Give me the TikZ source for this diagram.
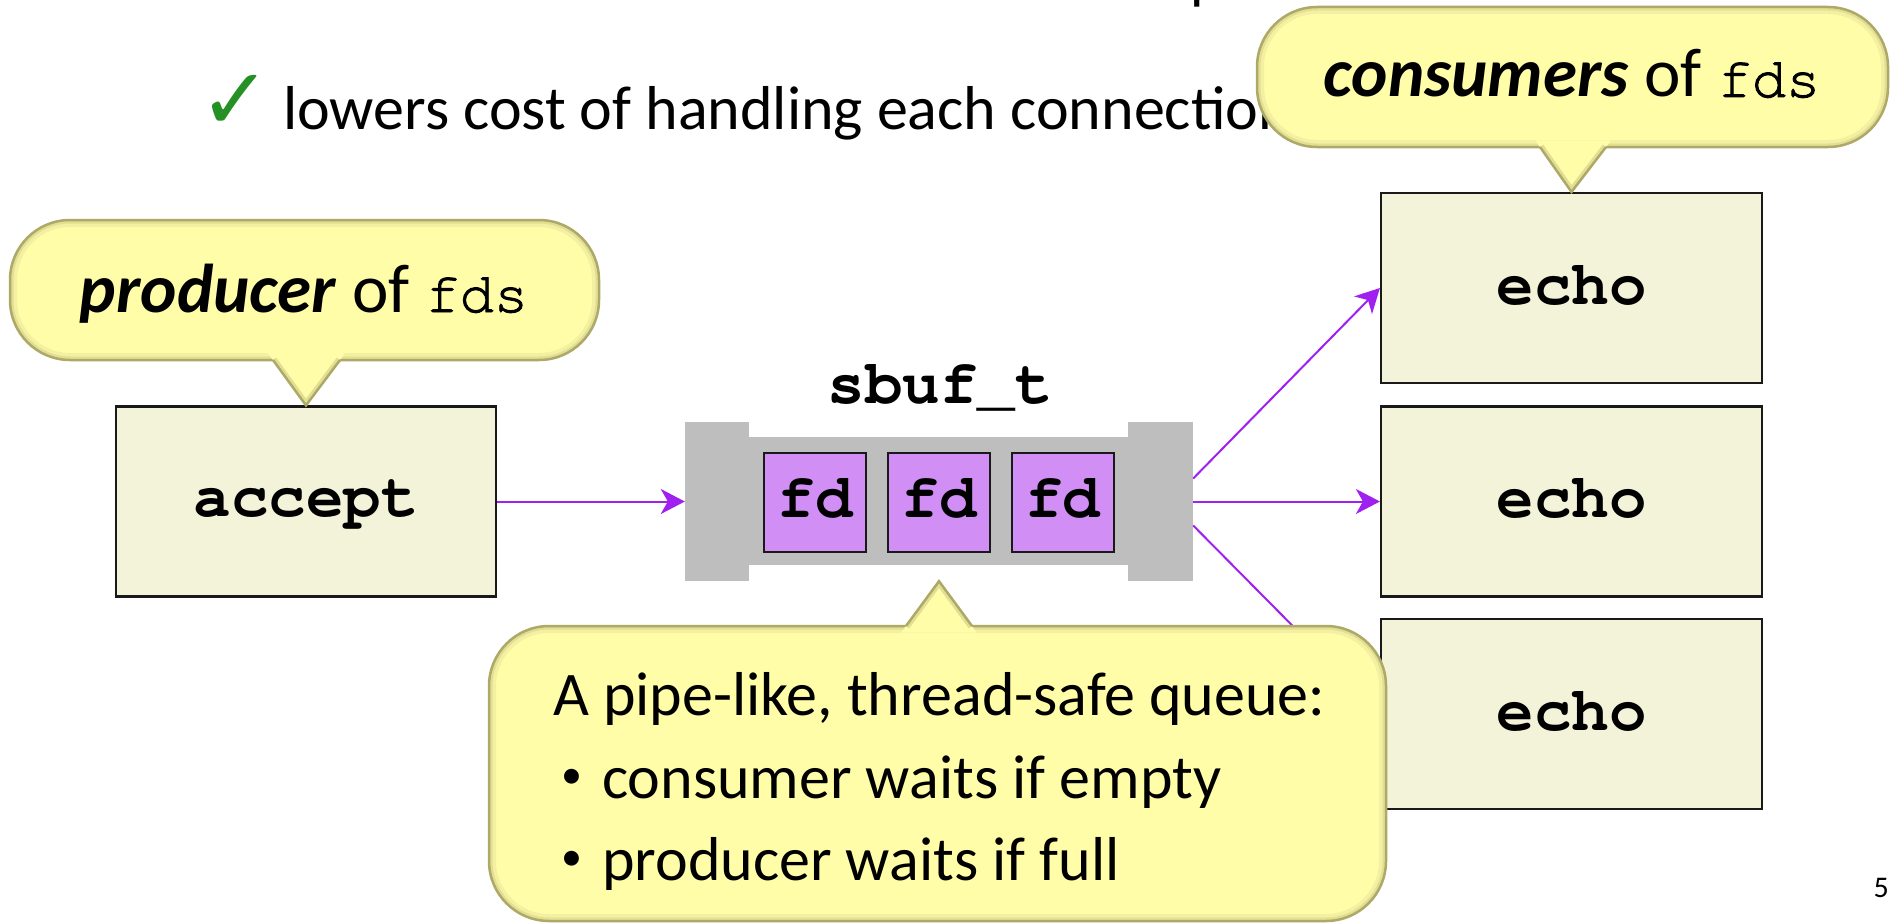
\documentclass[tikz,border=0pt]{standalone}
\usepackage{fontspec}
\setmainfont{Carlito}
\setmonofont{texgyrecursor}[Extension=.otf, UprightFont=*-regular, BoldFont=*-bold,
  ItalicFont=*-italic, BoldItalicFont=*-bolditalic]
\newfontfamily\notecode{texgyrecursor}[Extension=.otf, UprightFont=*-regular, FakeBold=1.6]
\newfontfamily\symbolfont{DejaVu Sans}
\usetikzlibrary{calc,arrows.meta}

\definecolor{boxfill}{HTML}{F3F3D9}
\definecolor{queuegray}{HTML}{BEBEBE}
\definecolor{fdfill}{HTML}{D18EF5}
\definecolor{flowpurple}{HTML}{A020F0}
\definecolor{tickgreen}{HTML}{259125}
\definecolor{tipfill}{HTML}{FFFDA8}
\definecolor{tipedge}{HTML}{ADA966}
\definecolor{tipshadeA}{HTML}{E2DE93}
\definecolor{tipshadeB}{HTML}{F3F0A2}

\newcommand\bodysize{\fontsize{62}{74}\selectfont}
\newcommand\notesize{\fontsize{69}{82}\selectfont}
\newcommand\codesize{\fontsize{62.5}{75}\selectfont\ttfamily\bfseries}
\newcommand\tipcode{\fontsize{57}{68}\selectfont\notecode}

% speech bubble: #1,#2 opposite corners of the body, #3,#4 ends of the
% pointer base on the body's edge, #5 the pointer tip
\newcommand\speechbubble[5]{%
  \begin{scope}
    \clip[rounded corners=60pt] #1 rectangle #2;
    \fill[tipfill] #1 rectangle #2;
    \draw[line width=14pt, tipshadeB, rounded corners=60pt] #1 rectangle #2;
    \draw[line width=7pt, tipshadeA, rounded corners=60pt] #1 rectangle #2;
  \end{scope}
  \draw[line width=2.5pt, tipedge, rounded corners=60pt] #1 rectangle #2;
  \begin{scope}
    \clip ($#5!1.15!#3$) -- #5 -- ($#5!1.15!#4$) -- cycle;
    \fill[tipfill] ($#5!1.15!#3$) -- #5 -- ($#5!1.15!#4$) -- cycle;
    \draw[line width=8pt, tipshadeA] #3 -- #5 -- #4;
  \end{scope}
  \draw[line width=2.5pt, tipedge, line join=miter] #3 -- #5 -- #4;
}

\begin{document}
\begin{tikzpicture}[x=1pt, y=-1pt,
  procbox/.style={draw=black!90, line width=2.2pt, fill=boxfill, inner sep=0pt,
                  minimum width=380pt, minimum height=190pt},
  fdbox/.style={draw=black!90, line width=2pt, fill=fdfill, inner sep=0pt,
                minimum width=102pt, minimum height=99pt},
  codelabel/.style={anchor=base, inner sep=0pt, font=\codesize},
  bodytext/.style={anchor=base west, inner sep=0pt, font=\bodysize},
  bulletmark/.style={anchor=center, inner sep=0pt, font=\fontsize{42}{50}\selectfont},
  flow/.style={draw=flowpurple, line width=2pt,
               -{Stealth[length=24pt, width=25pt, inset=7pt]}}]

\useasboundingbox (0,0) rectangle (1894,923);
\fill[white] (0,0) rectangle (1894,923);

% heading fragment and bullet line
\node[anchor=base west, inner sep=0pt, font=\fontsize{60}{72}\selectfont] (heading) at (1190,-2) {p};
\node[anchor=base west, inner sep=0pt, text=tickgreen,
      font=\symbolfont\fontsize{86}{98}\selectfont] (tick) at (199,130) {✓};
\node[bodytext] (point) at (283,129) {lowers cost of handling each connection};

% producer
\node[procbox] (accept) at (306,501.5) {};
\node[codelabel] (acceptlbl) at (306,516) {accept};

% the bounded buffer
\node[inner sep=0pt, minimum width=508pt, minimum height=159pt] (sbuf) at (939,501.5) {};
\fill[queuegray] (685,422) rectangle (749,581);
\fill[queuegray] (1128,422) rectangle (1193,581);
\fill[queuegray] (749,437) rectangle (1128,565);
\node[codelabel] (sbuflbl) at (940,403) {sbuf\_t};
\node[fdbox] (fd1) at (815,502.5) {};
\node[fdbox] (fd2) at (939,502.5) {};
\node[fdbox] (fd3) at (1062.5,502.5) {};
\node[codelabel] (fd1lbl) at (815,517) {fd};
\node[codelabel] (fd2lbl) at (939,517) {fd};
\node[codelabel] (fd3lbl) at (1062.5,517) {fd};

% consumers
\node[procbox, minimum width=381pt] (echo1) at (1571.5,288) {};
\node[procbox, minimum width=381pt] (echo2) at (1571.5,501.5) {};
\node[procbox, minimum width=381pt] (echo3) at (1571.5,714) {};
\node[codelabel] (echo1lbl) at (1571.5,304) {echo};
\node[codelabel] (echo2lbl) at (1571.5,517.5) {echo};
\node[codelabel] (echo3lbl) at (1571.5,730) {echo};

% flow of descriptors
\draw[flow] (accept.east) -- (sbuf.west);
\draw[flow] ([yshift=23pt]sbuf.east) -- (echo1.west);
\draw[flow] (sbuf.east) -- (echo2.west);
\draw[flow] ([yshift=-24pt]sbuf.east) -- (echo3.west);

% callouts
\speechbubble{(10,220)}{(599,360)}{(273,360)}{(340,360)}{(accept.north)}
\node[anchor=base, inner sep=0pt, font=\notesize] (prodnote) at (304,312)
  {\textbf{\textit{producer}} of {\tipcode fds}};

\speechbubble{(1257,7)}{(1888,147)}{(1540,147)}{(1606,147)}{(echo1.north)}
\node[anchor=base, inner sep=0pt, font=\notesize] (consnote) at (1572,97)
  {\textbf{\textit{consumers}} of {\tipcode fds}};

\speechbubble{(489,626)}{(1386,921)}{(906,626)}{(972,626)}{(sbuf.south)}
\node[bodytext] (qline1) at (553,715) {A pipe-like, thread-safe queue:};
\node[bulletmark] (qbul2) at (572,779) {•};
\node[bodytext] (qline2) at (602,798) {consumer waits if empty};
\node[bulletmark] (qbul3) at (572,861) {•};
\node[bodytext] (qline3) at (602,880) {producer waits if full};

% slide number
\node[anchor=base east, inner sep=0pt, font=\fontsize{30}{36}\selectfont] (pageno) at (1889,897) {5};
\end{tikzpicture}
\end{document}
